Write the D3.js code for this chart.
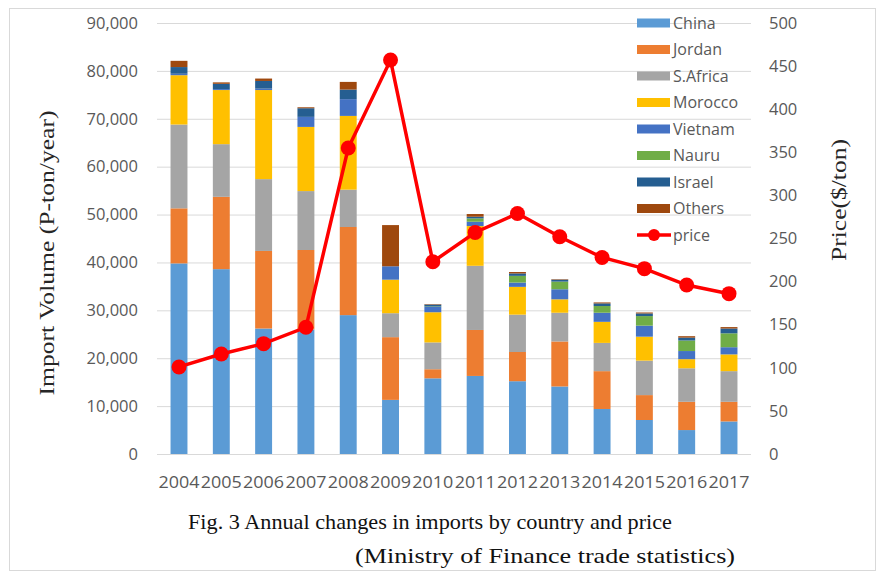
<!DOCTYPE html>
<html>
<head>
<meta charset="utf-8">
<script src="https://cdn.jsdelivr.net/npm/d3@7"></script>
<style>
  body { margin: 0; background: #fff; }
  svg { display: block; }
  .tick text { fill: #595959; font-family: 'Open Sans', sans-serif; }
</style>
</head>
<body>
<svg id="chart" width="878" height="573"></svg>
<script>
const years = ['2004', '2005', '2006', '2007', '2008', '2009', '2010', '2011', '2012', '2013', '2014', '2015', '2016', '2017']
const countries = ['China', 'Jordan', 'S.Africa', 'Morocco', 'Vietnam', 'Nauru', 'Israel', 'Others']
const colors = ['#5b9bd5', '#ed7d31', '#a5a5a5', '#ffc000', '#4472c4', '#70ad47', '#255e91', '#9e480e']

const china = [39800, 38600, 26200, 26000, 29000, 11300, 15800, 16300, 15200, 14100, 9400, 7100, 5000, 6800]
const jordan = [11500, 15100, 16200, 16600, 18400, 13100, 1900, 9600, 6100, 9400, 7900, 5200, 5900, 4100]
const safrica = [17500, 11000, 15000, 12300, 7800, 5000, 5600, 13400, 7800, 6000, 5900, 7200, 7000, 6400]
const morocco = [10300, 11300, 18600, 13400, 15400, 7000, 6300, 8300, 5800, 2800, 4400, 5000, 1900, 3500]
const vietnam = [300, 200, 300, 2100, 3500, 2800, 1100, 900, 900, 2100, 1900, 2300, 1700, 1500]
const nauru = [0, 0, 0, 0, 0, 0, 100, 700, 1400, 1600, 1400, 2000, 2200, 2900]
const israel = [1400, 1100, 1600, 1800, 2000, 0, 400, 350, 500, 400, 550, 550, 600, 1000]
const others = [1300, 300, 500, 200, 1600, 8600, 100, 560, 300, 100, 200, 200, 300, 300]
const price = [101, 116, 128, 147, 355, 457, 223, 257, 279, 252, 228, 215, 196, 186]

const volumeTicks = [0, 10000, 20000, 30000, 40000, 50000, 60000, 70000, 80000, 90000]
const priceTicks = [0, 50, 100, 150, 200, 250, 300, 350, 400, 450, 500]

const series = [china, jordan, safrica, morocco, vietnam, nauru, israel, others]
const table = years.map((yr, i) => {
  const row = {year: yr}
  countries.forEach((c, k) => { row[c] = series[k][i] })
  return row
})

const svg = d3.select('#chart')
const plotLeft = 157, plotRight = 751, plotTop = 23, plotBottom = 454

// outer frame
svg.append('rect')
  .attr('x', 9.5).attr('y', 8.5)
  .attr('width', 866).attr('height', 562)
  .attr('fill', 'none')
  .attr('stroke', '#d9d9d9')

const x = d3.scaleBand()
  .domain(years)
  .range([plotLeft, plotRight])
  .paddingInner(0.6)
  .paddingOuter(0.32)

const y = d3.scaleLinear().domain([0, 90000]).range([plotBottom, plotTop])
const y2 = d3.scaleLinear().domain([0, 500]).range([plotBottom, plotTop])

// gridlines
svg.append('g')
  .attr('transform', `translate(${plotLeft},0)`)
  .call(d3.axisLeft(y).tickValues(volumeTicks).tickSize(-(plotRight - plotLeft)).tickFormat(''))
  .call(g => g.select('.domain').remove())
  .call(g => g.selectAll('line').attr('stroke', '#d9d9d9'))

// stacked bars
const stack = d3.stack().keys(countries)(table)
svg.append('g').selectAll('g').data(stack).enter().append('g')
  .attr('fill', (d, i) => colors[i])
  .selectAll('rect').data(d => d).enter().append('rect')
    .attr('x', d => x(d.data.year))
    .attr('width', x.bandwidth())
    .attr('y', d => y(d[1]))
    .attr('height', d => y(d[0]) - y(d[1]))

// price line
const line = d3.line()
  .x((d, i) => x(years[i]) + x.bandwidth() / 2)
  .y(d => y2(d))

svg.append('path')
  .datum(price)
  .attr('d', line)
  .attr('fill', 'none')
  .attr('stroke', '#ff0000')
  .attr('stroke-width', 3.5)

svg.append('g').selectAll('circle').data(price).enter().append('circle')
  .attr('cx', (d, i) => x(years[i]) + x.bandwidth() / 2)
  .attr('cy', d => y2(d))
  .attr('r', 7.5)
  .attr('fill', '#ff0000')

// axes labels
svg.append('g')
  .attr('transform', `translate(${plotLeft},0)`)
  .call(d3.axisLeft(y).tickValues(volumeTicks).tickSize(0).tickPadding(19).tickFormat(d3.format(',')))
  .call(g => g.select('.domain').remove())
  .selectAll('text').style('font-size', '16.5px')

svg.append('g')
  .attr('transform', `translate(${plotRight},0)`)
  .call(d3.axisRight(y2).tickValues(priceTicks).tickSize(0).tickPadding(18))
  .call(g => g.select('.domain').remove())
  .selectAll('text').style('font-size', '16.5px')

svg.append('g')
  .attr('transform', `translate(0,${plotBottom})`)
  .call(d3.axisBottom(x).tickSize(0).tickPadding(22))
  .call(g => g.select('.domain').attr('stroke', '#d9d9d9').attr('d', `M${plotLeft},0.5H${plotRight}`))
  .selectAll('text').style('font-size', '17px').attr('textLength', 41).attr('lengthAdjust', 'spacingAndGlyphs')

// axis titles
svg.append('text')
  .attr('transform', 'translate(54,253) rotate(-90)')
  .attr('text-anchor', 'middle')
  .attr('textLength', 285).attr('lengthAdjust', 'spacingAndGlyphs')
  .style('font-family', 'Liberation Serif, serif')
  .style('font-size', '21px')
  .attr('fill', '#262626')
  .text('Import Volume (P-ton/year)')

svg.append('text')
  .attr('transform', 'translate(846,200) rotate(-90)')
  .attr('text-anchor', 'middle')
  .attr('textLength', 122).attr('lengthAdjust', 'spacingAndGlyphs')
  .style('font-family', 'Liberation Serif, serif')
  .style('font-size', '21px')
  .attr('fill', '#262626')
  .text('Price($/ton)')

// legend
const legend = svg.append('g').attr('transform', 'translate(637,23)')
const rowH = 26.5
countries.forEach((c, i) => {
  const row = legend.append('g').attr('transform', `translate(0,${i * rowH})`)
  row.append('rect').attr('x', 0).attr('y', -4.5).attr('width', 33).attr('height', 9).attr('fill', colors[i])
  row.append('text').attr('x', 36).attr('dy', '0.35em')
    .style('font-family', 'Open Sans, sans-serif').style('font-size', '16px').attr('fill', '#595959')
    .text(c)
})
const pr = legend.append('g').attr('transform', `translate(0,${countries.length * rowH})`)
pr.append('line').attr('x1', 0).attr('x2', 34).attr('stroke', '#ff0000').attr('stroke-width', 3.5)
pr.append('circle').attr('cx', 17).attr('r', 6).attr('fill', '#ff0000')
pr.append('text').attr('x', 36).attr('dy', '0.35em')
  .style('font-family', 'Open Sans, sans-serif').style('font-size', '16px').attr('fill', '#595959')
  .text('price')

// caption
svg.append('text')
  .attr('x', 188).attr('y', 529)
  .attr('textLength', 484).attr('lengthAdjust', 'spacingAndGlyphs')
  .style('font-family', 'Liberation Serif, serif').style('font-size', '21px')
  .attr('fill', '#111')
  .text('Fig. 3  Annual changes in imports by country and price')

svg.append('text')
  .attr('x', 355).attr('y', 563)
  .attr('textLength', 380).attr('lengthAdjust', 'spacingAndGlyphs')
  .style('font-family', 'Liberation Serif, serif').style('font-size', '21px')
  .attr('fill', '#111')
  .text('(Ministry of Finance trade statistics)')
</script>
</body>
</html>
